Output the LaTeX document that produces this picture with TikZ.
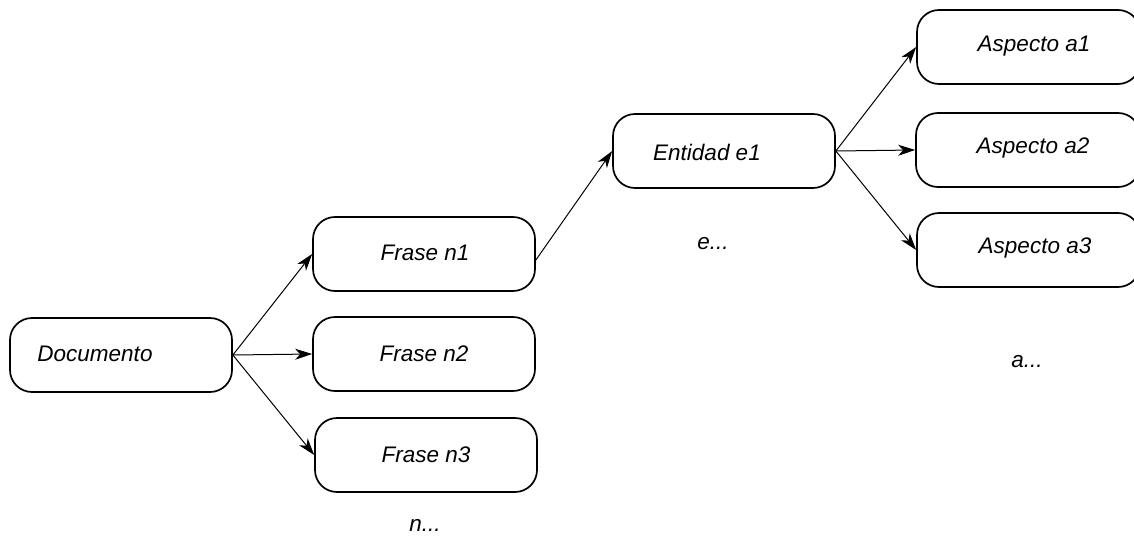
\documentclass[tikz,border=0pt]{standalone}
\usepackage{fontspec}
\setmainfont{Liberation Sans}
\usetikzlibrary{arrows.meta,calc}
\begin{document}
\begin{tikzpicture}[x=1pt,y=-1pt,
  box/.style={draw,line width=1.7pt,rounded corners=22pt,minimum width=222pt,minimum height=74pt,inner sep=0pt},
  lbl/.style={font=\fontsize{22.5}{26}\selectfont\itshape,inner sep=0pt},
  arr/.style={line width=1pt,-{Stealth[length=17pt,width=11pt,inset=5pt]}}]
\useasboundingbox (0,0) rectangle (1134,543);
\clip (0,0) rectangle (1134,543);
\node[box] (doc) at (121,355) {};
\node[box] (f1) at (424,254) {};
\node[box] (f2) at (424,354) {};
\node[box] (f3) at (426,455) {};
\node[box] (ent) at (724,151) {};
\node[box,minimum width=223pt] (a1) at (1028.5,47) {};
\node[box,minimum width=224pt] (a2) at (1028,150) {};
\node[box,minimum width=223pt] (a3) at (1028.5,250) {};
\node[lbl] (tdoc) at (95,354) {Documento};
\node[lbl] (tf1) at (425,253) {Frase n1};
\node[lbl] (tf2) at (424,354) {Frase n2};
\node[lbl] (tf3) at (426,455) {Frase n3};
\node[lbl] (tent) at (707,152) {Entidad e1};
\node[lbl] (ta1) at (1034,46) {Aspecto a1};
\node[lbl] (ta2) at (1033,148) {Aspecto a2};
\node[lbl] (ta3) at (1035,248) {Aspecto a3};
\node[lbl] (tn) at (425,525) {n...};
\node[lbl] (te) at (713,244) {e...};
\node[lbl] (ta) at (1027,362) {a...};
\draw[arr] (doc.east) -- (f1.west);
\draw[arr] (doc.east) -- (f2.west);
\draw[arr] (doc.east) -- (f3.west);
\draw[arr] ($(f1.east)+(0,6)$) -- (ent.west);
\draw[arr] (ent.east) -- (a1.west);
\draw[arr] (ent.east) -- (a2.west);
\draw[arr] (ent.east) -- (a3.west);
\end{tikzpicture}
\end{document}
